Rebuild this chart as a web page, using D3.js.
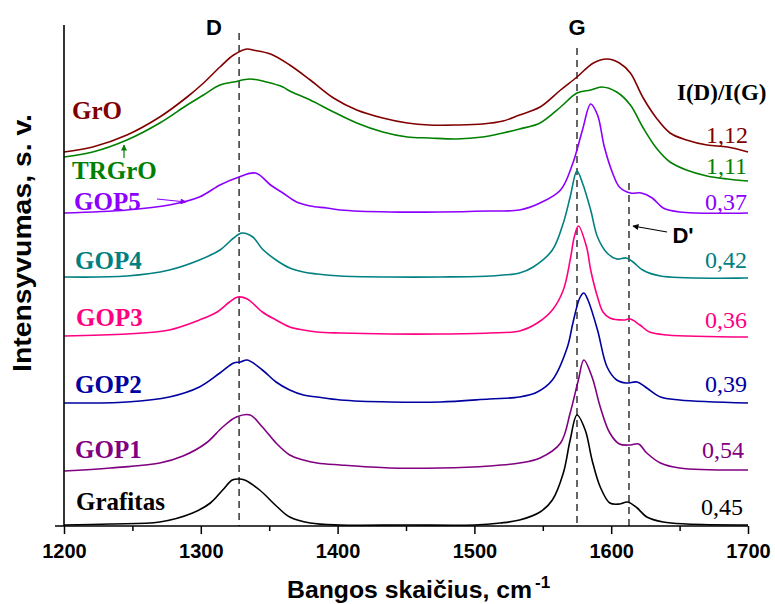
<!DOCTYPE html>
<html>
<head>
<meta charset="utf-8">
<script src="https://cdn.jsdelivr.net/npm/d3@7"></script>
<style>
  body { margin: 0; background: #fff; }
  svg { display: block; }
</style>
</head>
<body>
<svg id="chart" width="775" height="604"></svg>
<script>
// Raman spectra, stacked with vertical offsets: [wavenumber cm-1, intensity a.u.]
const grafitas = [[1200,1],[1234,2],[1270,4],[1294,13],[1307,23],[1316,36],[1323,46],[1328,47],[1332,46],[1343,36],[1356,19],[1365,9],[1380,3],[1402,1],[1450,1],[1500,1],[1519,3],[1533,6],[1548,14],[1557,26],[1565,53],[1570,86],[1575,111],[1581,96],[1586,66],[1592,39],[1599,23],[1606,22],[1612,24],[1619,18],[1626,9],[1638,4],[1655,2],[1700,1]];
const gop1 = [[1200,55],[1234,58],[1270,63],[1287,70],[1304,83],[1316,99],[1326,109],[1336,111],[1345,99],[1355,83],[1365,71],[1375,66],[1385,63],[1402,61],[1438,58],[1475,58],[1511,60],[1533,63],[1548,68],[1563,83],[1570,113],[1576,146],[1580,166],[1586,149],[1592,119],[1599,93],[1606,82],[1614,81],[1620,82],[1626,73],[1636,63],[1650,58],[1700,56]];
const gop2 = [[1200,123],[1246,124],[1277,129],[1299,139],[1314,153],[1324,163],[1329,164],[1334,166],[1345,156],[1355,144],[1365,136],[1375,131],[1385,129],[1402,126],[1438,124],[1475,124],[1511,127],[1533,129],[1546,134],[1557,146],[1568,179],[1572,203],[1577,228],[1580,233],[1583,226],[1590,196],[1597,159],[1604,146],[1611,143],[1619,144],[1626,138],[1636,129],[1650,126],[1700,123]];
const gop3 = [[1200,190],[1246,192],[1277,196],[1299,206],[1312,214],[1321,224],[1327,229],[1334,227],[1345,214],[1355,206],[1365,199],[1375,196],[1385,194],[1402,193],[1438,192],[1475,192],[1511,193],[1533,195],[1546,203],[1557,216],[1565,236],[1570,266],[1573,289],[1576,300],[1582,279],[1585,256],[1590,229],[1594,214],[1599,208],[1609,206],[1614,207],[1621,201],[1628,194],[1641,191],[1700,189]];
const gop4 = [[1200,249],[1246,250],[1277,256],[1299,266],[1314,276],[1324,288],[1330,293],[1338,289],[1345,277],[1355,266],[1365,258],[1375,254],[1385,252],[1402,250],[1438,249],[1475,249],[1511,250],[1533,253],[1543,259],[1557,276],[1565,303],[1570,329],[1575,355],[1579,343],[1585,316],[1590,289],[1597,273],[1604,267],[1611,268],[1616,264],[1623,256],[1636,250],[1700,248]];
const gop5 = [[1200,313],[1246,316],[1277,321],[1299,329],[1314,341],[1326,348],[1340,353],[1351,341],[1360,333],[1370,324],[1380,320],[1392,318],[1402,316],[1438,314],[1475,314],[1511,315],[1533,316],[1548,323],[1563,336],[1572,363],[1579,396],[1585,422],[1590,411],[1595,379],[1601,353],[1606,339],[1614,333],[1622,333],[1630,328],[1638,318],[1650,314],[1700,313]];
const trgro = [[1200,369],[1221,374],[1246,386],[1270,403],[1290,421],[1302,431],[1314,441],[1324,444],[1336,447],[1348,444],[1360,439],[1365,435],[1380,426],[1397,414],[1414,403],[1433,394],[1451,389],[1467,388],[1487,387],[1506,389],[1521,393],[1533,397],[1548,403],[1563,419],[1575,433],[1585,436],[1593,439],[1604,434],[1614,421],[1623,399],[1633,378],[1643,364],[1655,356],[1670,350],[1685,347],[1700,345]];
const gro = [[1200,374],[1221,379],[1246,391],[1270,409],[1290,429],[1302,443],[1314,459],[1324,471],[1334,477],[1338,476],[1351,472],[1365,461],[1380,446],[1397,428],[1414,416],[1433,408],[1451,403],[1467,401],[1487,401],[1506,402],[1521,405],[1533,411],[1548,419],[1563,436],[1575,449],[1587,463],[1597,467],[1606,463],[1614,453],[1623,429],[1633,408],[1643,393],[1655,386],[1670,381],[1685,379],[1700,374]];

const seriesNames  = ["Grafitas", "GOP1", "GOP2", "GOP3", "GOP4", "GOP5", "TRGrO", "GrO"];
const seriesColors = ["#000000", "#800080", "#0000a0", "#ff0080", "#008080", "#8c00ff", "#008000", "#800000"];
const ratioLabels  = ["0,45", "0,54", "0,39", "0,36", "0,42", "0,37", "1,11", "1,12"];
const xTicks = [1200, 1300, 1400, 1500, 1600, 1700];
const xMinorTicks = [1250, 1350, 1450, 1550, 1650];
const bandNames = ["D", "G", "D'"];
const bandPositions = [1328, 1575, 1613];

const spectra = [grafitas, gop1, gop2, gop3, gop4, gop5, trgro, gro];

const svg = d3.select("#chart");
const x = d3.scaleLinear().domain([1200, 1700]).range([64, 748]);
const y = d3.scaleLinear().domain([0, 500]).range([526, 26]);

const sans = "'Liberation Sans', Arial, sans-serif";
const serif = "'Liberation Serif', 'Times New Roman', serif";

// arrowhead markers
const defs = svg.append("defs");
[["arrBlack", "#000"], ["arrGreen", "#008000"], ["arrViolet", "#8c00ff"]].forEach(([id, c]) => {
  defs.append("marker").attr("id", id)
    .attr("viewBox", "0 0 10 10").attr("refX", 9).attr("refY", 5)
    .attr("markerWidth", 9).attr("markerHeight", 6)
    .attr("markerUnits", "userSpaceOnUse")
    .attr("orient", "auto")
    .append("path").attr("d", "M0,0 L10,5 L0,10 Z").attr("fill", c);
});

// dashed band markers
const bandTop = [33, 48, 183];
svg.selectAll("line.band").data(bandPositions).enter().append("line")
  .attr("class", "band")
  .attr("x1", d => x(d)).attr("x2", d => x(d))
  .attr("y1", (d, i) => bandTop[i]).attr("y2", y(0))
  .attr("stroke", "#404040").attr("stroke-width", 1.6)
  .attr("stroke-dasharray", "7,5");

// spectra
const line = d3.line().x(d => x(d[0])).y(d => y(d[1])).curve(d3.curveCatmullRom.alpha(0.5));
svg.selectAll("path.spec").data(spectra).enter().append("path")
  .attr("class", "spec")
  .attr("d", line)
  .attr("fill", "none")
  .attr("stroke", (d, i) => seriesColors[i])
  .attr("stroke-width", 1.6)
  .attr("stroke-linejoin", "round");

// axes
const axisG = svg.append("g").attr("transform", `translate(0,${y(0)})`);
axisG.call(d3.axisBottom(x).tickValues(xTicks).tickSize(8).tickSizeOuter(0).tickPadding(10).tickFormat(d3.format("d")));
axisG.select(".domain").remove();
axisG.selectAll(".tick line").attr("stroke", "#000").attr("stroke-width", 1.5);
axisG.selectAll(".tick text").attr("font-family", sans).attr("font-weight", "bold")
  .attr("font-size", 20).attr("fill", "#000");
const minorG = svg.append("g").attr("transform", `translate(0,${y(0)})`);
minorG.call(d3.axisBottom(x).tickValues(xMinorTicks).tickSize(5).tickFormat(""));
minorG.select(".domain").remove();
minorG.selectAll(".tick line").attr("stroke", "#000").attr("stroke-width", 1.5);

svg.append("line").attr("x1", 55).attr("x2", x(1700)).attr("y1", y(0)).attr("y2", y(0))
  .attr("stroke", "#000").attr("stroke-width", 1.6);
svg.append("line").attr("x1", x(1200)).attr("x2", x(1200)).attr("y1", 25).attr("y2", y(0))
  .attr("stroke", "#000").attr("stroke-width", 1.6);

// axis titles
svg.append("text").attr("x", 287).attr("y", 598)
  .attr("font-family", sans).attr("font-weight", "bold").attr("font-size", 23)
  .attr("textLength", 245).attr("lengthAdjust", "spacingAndGlyphs")
  .text("Bangos skaičius, cm");
svg.append("text").attr("x", 535).attr("y", 588)
  .attr("font-family", sans).attr("font-weight", "bold").attr("font-size", 17)
  .text("-1");
svg.append("text")
  .attr("transform", "translate(31,243) rotate(-90)")
  .attr("text-anchor", "middle")
  .attr("font-family", sans).attr("font-weight", "bold").attr("font-size", 26)
  .attr("textLength", 258).attr("lengthAdjust", "spacingAndGlyphs")
  .text("Intensyvumas, s. v.");

// band names
const bandLabelPos = [[214, 35], [577, 35], [683, 243]];
svg.selectAll("text.band").data(bandNames).enter().append("text")
  .attr("class", "band")
  .attr("x", (d, i) => bandLabelPos[i][0]).attr("y", (d, i) => bandLabelPos[i][1])
  .attr("text-anchor", "middle")
  .attr("font-family", sans).attr("font-weight", "bold").attr("font-size", 22)
  .text(d => d);
svg.append("line").attr("x1", 667).attr("y1", 232).attr("x2", 633).attr("y2", 226)
  .attr("stroke", "#000").attr("stroke-width", 1.2).attr("marker-end", "url(#arrBlack)");

// sample names
const nameX = [76, 75, 75, 76, 75, 74, 72, 72];
const nameY = [510, 458, 393, 326, 269, 210, 179, 119];
svg.selectAll("text.name").data(seriesNames).enter().append("text")
  .attr("class", "name")
  .attr("x", (d, i) => nameX[i]).attr("y", (d, i) => nameY[i])
  .attr("font-family", serif).attr("font-weight", "bold").attr("font-size", 25)
  .attr("fill", (d, i) => seriesColors[i])
  .text(d => d);
svg.append("line").attr("x1", 124).attr("y1", 158).attr("x2", 124).attr("y2", 145)
  .attr("stroke", "#008000").attr("stroke-width", 1.2).attr("marker-end", "url(#arrGreen)");
svg.append("line").attr("x1", 157).attr("y1", 199).attr("x2", 186).attr("y2", 202)
  .attr("stroke", "#8c00ff").attr("stroke-width", 1.2).attr("marker-end", "url(#arrViolet)");

// I(D)/I(G) ratios
svg.append("text").attr("x", 677).attr("y", 100)
  .attr("font-family", serif).attr("font-weight", "bold").attr("font-size", 23)
  .text("I(D)/I(G)");
const ratioX = [743, 744, 747, 747, 747, 747, 747, 748];
const ratioY = [515, 458, 392, 328, 268, 210, 174, 143];
svg.selectAll("text.ratio").data(ratioLabels).enter().append("text")
  .attr("class", "ratio")
  .attr("x", (d, i) => ratioX[i]).attr("y", (d, i) => ratioY[i])
  .attr("text-anchor", "end")
  .attr("font-family", serif).attr("font-size", 24)
  .attr("fill", (d, i) => seriesColors[i])
  .text(d => d);
</script>
</body>
</html>
